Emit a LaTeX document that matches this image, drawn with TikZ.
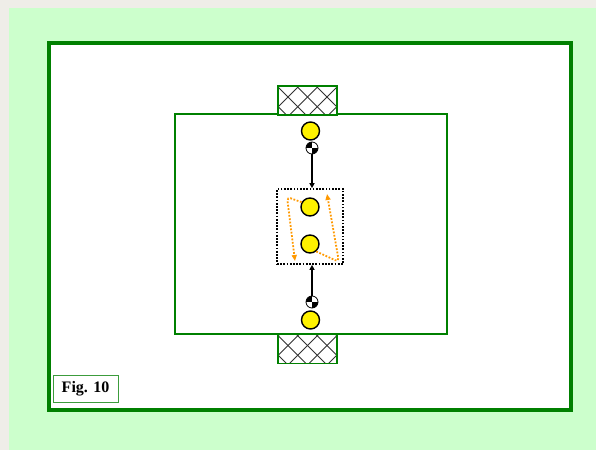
\documentclass[tikz,border=0pt]{standalone}
\usepackage{fontspec}
\setmainfont{Liberation Serif}
\usetikzlibrary{arrows.meta}
\definecolor{outerbg}{HTML}{EFEDE8}
\definecolor{lightgreen}{HTML}{CCFFCC}
\definecolor{dgreen}{HTML}{008000}
\definecolor{lblgreen}{HTML}{3C9C3C}
\definecolor{hatch}{HTML}{333333}
\definecolor{orangec}{HTML}{FF9900}
\tikzset{
  player/.style={circle, draw=black, fill=yellow, line width=1.4pt, minimum size=18pt, inner sep=0pt},
  ball/.style={circle, draw=black, fill=white, line width=0.8pt, minimum size=12pt, inner sep=0pt,
    path picture={
      \fill[black] (path picture bounding box.center) rectangle (path picture bounding box.north west);
      \fill[black] (path picture bounding box.center) rectangle (path picture bounding box.south east);
    }},
  goalbox/.style={rectangle, draw=dgreen, fill=white, line width=1.5pt, minimum width=59pt, minimum height=29pt, inner sep=0pt,
    path picture={
      \foreach \s in {-47,-27.5,-8,11.5,31,50.5} {
        \draw[hatch, line width=1pt] ([xshift=\s pt]path picture bounding box.south west) -- ++(45pt,45pt);
      }
      \foreach \s in {-11,8.5,28,47.5,67,86.5,106} {
        \draw[hatch, line width=1pt] ([xshift=\s pt]path picture bounding box.south west) -- ++(-45pt,45pt);
      }
    }},
  zonebox/.style={rectangle, draw=black, line width=1.7pt, dash pattern=on 1.7pt off 1.5pt, minimum width=66pt, minimum height=75pt, inner sep=0pt},
  passarrow/.style={draw=black, line width=1.4pt, -{Triangle[length=5pt,width=5pt]}},
  runarrow/.style={draw=orangec, line width=1.8pt, dash pattern=on 1.8pt off 1.6pt, rounded corners=4pt, -{Triangle[length=6pt,width=5pt]}},
  figlabel/.style={rectangle, draw=lblgreen, fill=white, line width=1pt, minimum width=65pt, minimum height=27pt, inner sep=0pt, font=\fontsize{16}{18}\selectfont\bfseries}
}
\begin{document}
\begin{tikzpicture}[x=1pt,y=-1pt]
\useasboundingbox (0,0) rectangle (596,450);
\fill[outerbg] (0,0) rectangle (596,450);
\fill[lightgreen] (9,8) rectangle (596,450);
% outer field
\draw[dgreen, line width=4pt, fill=white] (49,43) rectangle (571,410);
% pitch
\draw[dgreen, line width=1.5pt] (175,114) rectangle (447,334);
% goals
\node[goalbox] (goalT) at (307.5,100.5) {};
\node[goalbox] (goalB) at (307.5,349) {};
% zone
\node[zonebox] (zone) at (310,226.5) {};
% players
\node[player] (pT) at (310.5,131) {};
\node[ball] (bT) at (312,148) {};
\node[player] (pM1) at (310,207) {};
\node[player] (pM2) at (310,244) {};
\node[ball] (bB) at (312,302) {};
\node[player] (pB) at (310.5,320) {};
% passes
\draw[passarrow] (bT.south) -- (bT.south |- zone.north);
\draw[passarrow] (bB.north) -- (bB.north |- zone.south);
% runs
\coordinate (lc) at (287,197);
\coordinate (le) at (295,261);
\coordinate (rc) at (339,262);
\coordinate (re) at (327,194);
\draw[runarrow] (pM1.150) -- (lc) -- (le);
\draw[runarrow] (pM2.-50) -- (rc) -- (re);
% label
\node[figlabel] (fig) at (85.5,388.5) {Fig. 10};
\end{tikzpicture}
\end{document}
